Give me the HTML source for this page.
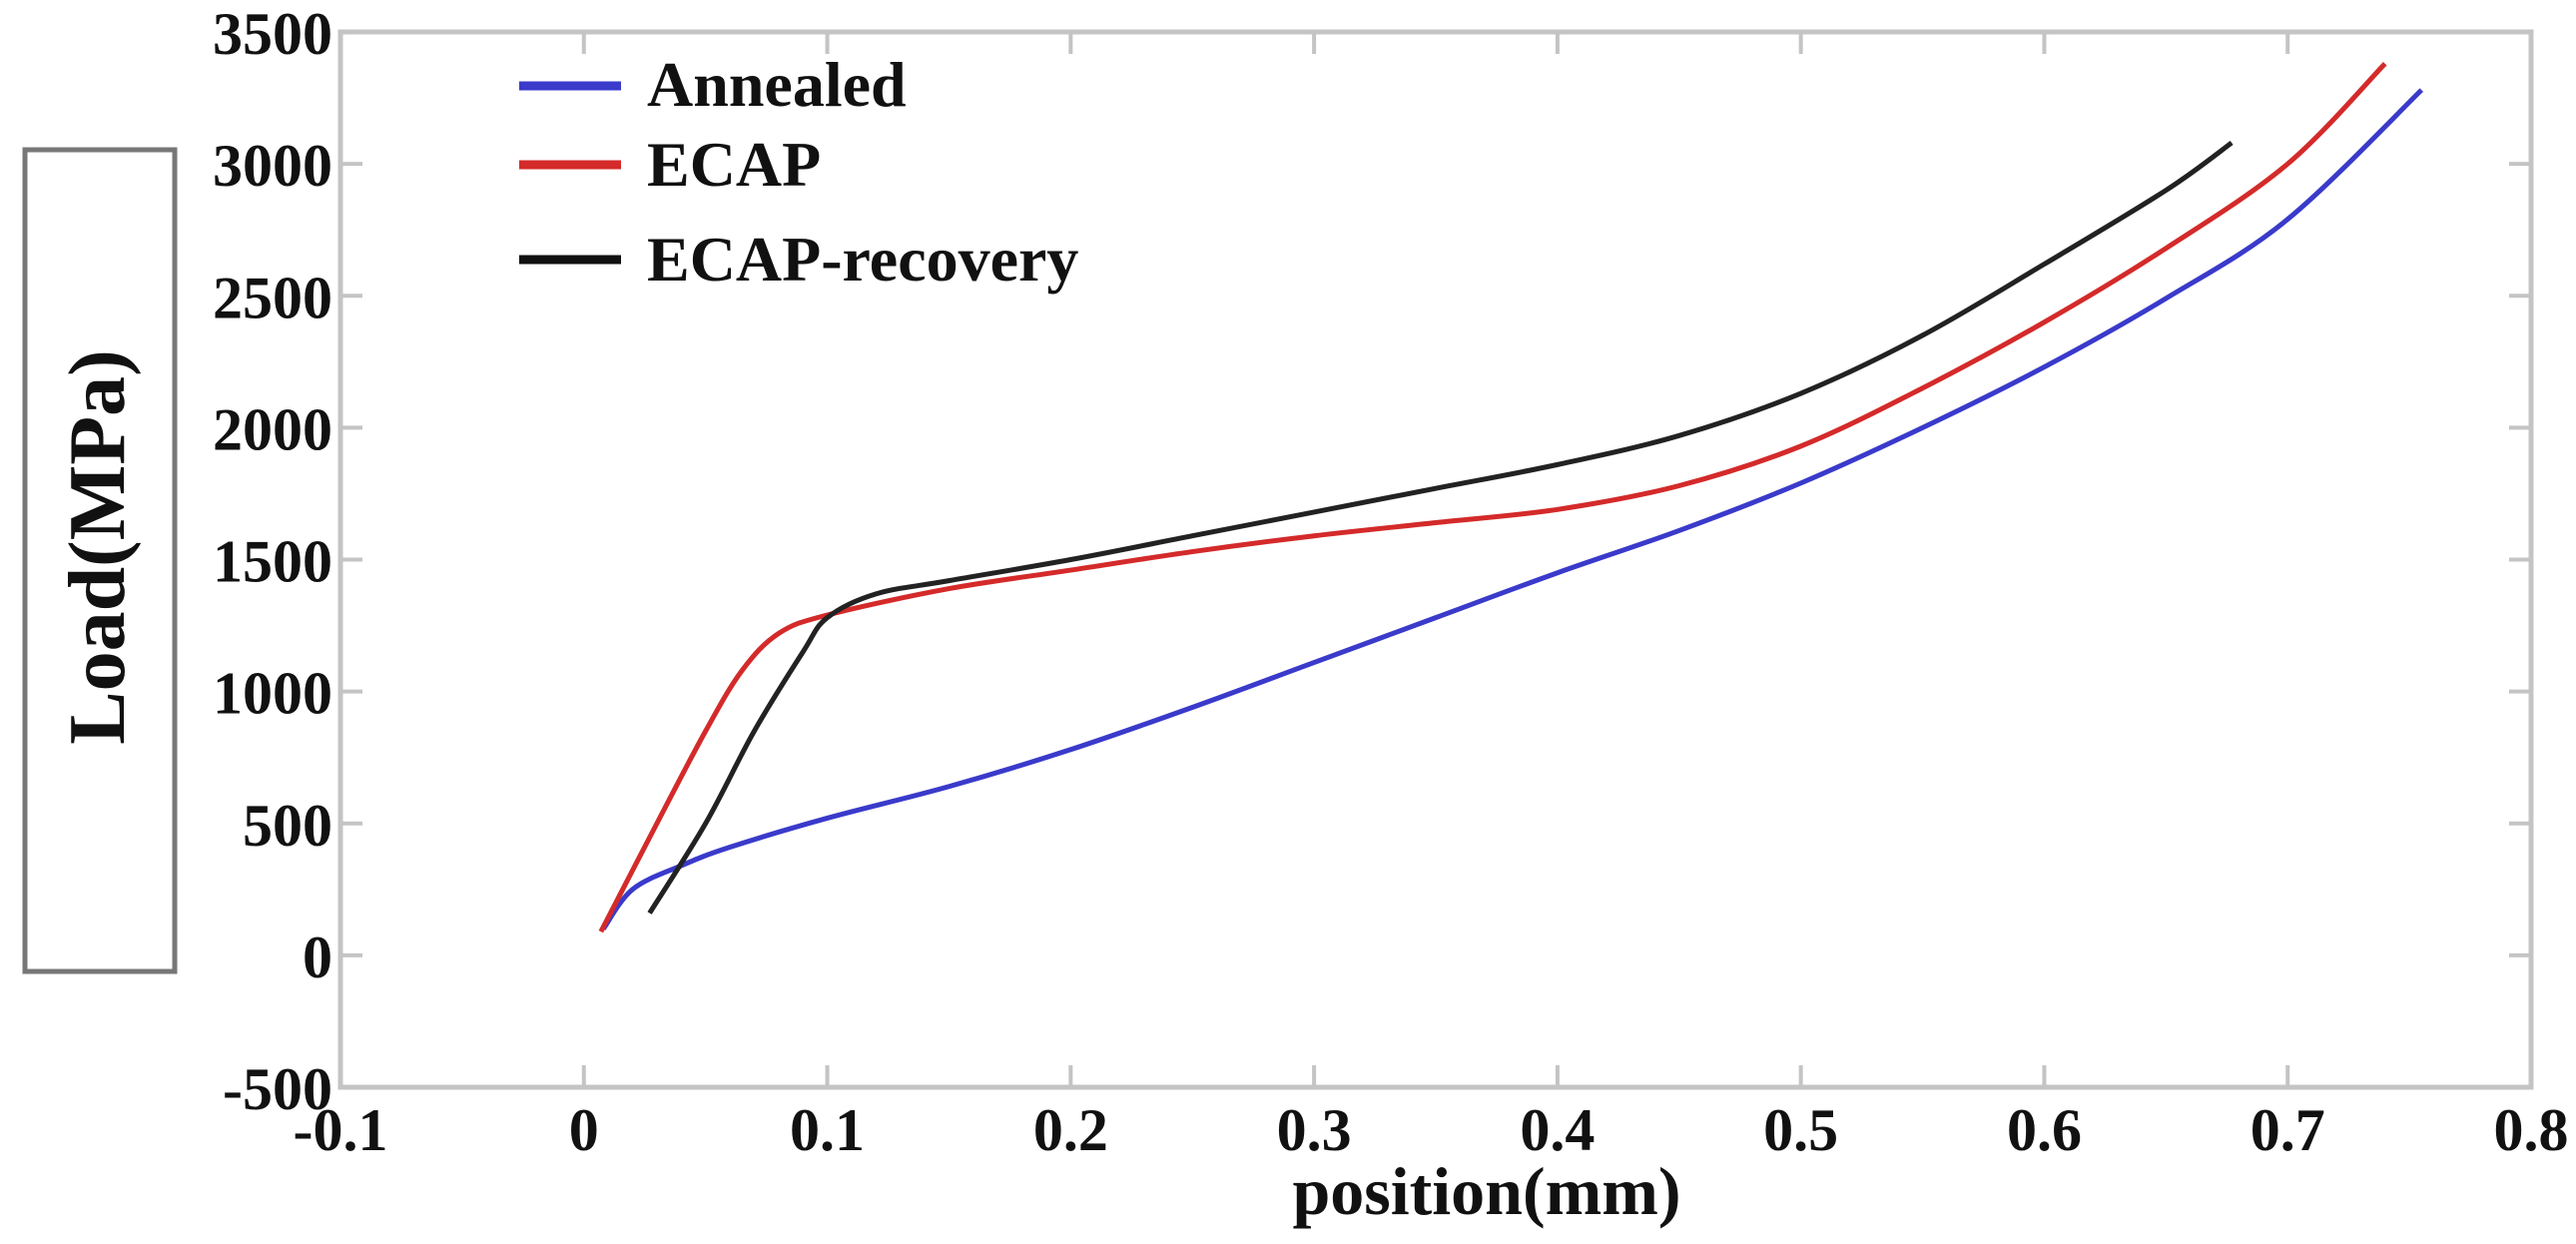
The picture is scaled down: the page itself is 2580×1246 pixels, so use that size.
<!DOCTYPE html>
<html><head><meta charset="utf-8"><style>
html,body{margin:0;padding:0;background:#fff;}
svg{display:block;}
text{font-family:"Liberation Serif",serif;font-weight:bold;fill:#111;}
</style></head><body>
<svg id="chart" width="2580" height="1246" viewBox="0 0 2580 1246">
<rect x="25" y="150" width="150" height="823" fill="none" stroke="#777" stroke-width="5"/>
<text x="0" y="0" transform="translate(124,548) rotate(-90)" text-anchor="middle" font-size="80">Load(MPa)</text>
<text x="1489" y="1216" text-anchor="middle" font-size="68">position(mm)</text>
<g id="axes"></g>
<g id="series"></g>
<g>
<line x1="520" y1="86" x2="622" y2="86" stroke="#3a3acb" stroke-width="9"/>
<text x="648" y="106" font-size="64">Annealed</text>
<line x1="520" y1="165" x2="622" y2="165" stroke="#d42a2a" stroke-width="9"/>
<text x="648" y="186" font-size="64">ECAP</text>
<line x1="520" y1="260" x2="622" y2="260" stroke="#111" stroke-width="9"/>
<text x="648" y="281" font-size="64">ECAP-recovery</text>
</g>
</svg>
<script>
const xTicks = [-0.1, 0, 0.1, 0.2, 0.3, 0.4, 0.5, 0.6, 0.7, 0.8];
const xTickLabels = ["-0.1","0","0.1","0.2","0.3","0.4","0.5","0.6","0.7","0.8"];
const yTicks = [-500, 0, 500, 1000, 1500, 2000, 2500, 3000, 3500];
const yTickLabels = ["-500","0","500","1000","1500","2000","2500","3000","3500"];
const annealedX = [0.008,0.02,0.04,0.06,0.1,0.15,0.2,0.25,0.3,0.35,0.4,0.45,0.5,0.55,0.6,0.65,0.7,0.755];
const annealedY = [100,250,340,410,520,640,780,940,1110,1280,1450,1610,1790,2000,2230,2490,2790,3280];
const ecapX = [0.007,0.03,0.05,0.065,0.08,0.1,0.15,0.2,0.25,0.3,0.35,0.4,0.45,0.5,0.55,0.6,0.65,0.7,0.74];
const ecapY = [90,500,850,1080,1220,1290,1390,1460,1530,1590,1640,1690,1780,1930,2150,2400,2680,3000,3380];
const recovX = [0.027,0.05,0.07,0.09,0.1,0.12,0.15,0.2,0.25,0.3,0.35,0.4,0.45,0.5,0.55,0.6,0.65,0.677];
const recovY = [160,500,850,1150,1280,1370,1420,1500,1590,1680,1770,1860,1970,2130,2350,2620,2900,3080];

const L=341, R=2535, T=32, B=1089;
const X0=-0.1, X1=0.8, Y0=-500, Y1=3500;
function sx(v){return L+(v-X0)/(X1-X0)*(R-L);}
function sy(v){return B-(v-Y0)/(Y1-Y0)*(B-T);}
const NS="http://www.w3.org/2000/svg";
const axes=document.getElementById('axes');
function mk(tag,attrs,parent){const e=document.createElementNS(NS,tag);for(const k in attrs)e.setAttribute(k,attrs[k]);parent.appendChild(e);return e;}

const frame=mk('rect',{x:L,y:T,width:R-L,height:B-T,fill:'none',stroke:'#c4c4c4','stroke-width':5},axes);



xTicks.forEach((v,i)=>{
  const x=sx(v);
  const t1=mk('line',{x1:x,y1:B,x2:x,y2:B-22,stroke:'#c4c4c4','stroke-width':4},axes);
  
  
  const t2=mk('line',{x1:x,y1:T,x2:x,y2:T+22,stroke:'#c4c4c4','stroke-width':4},axes);
  
  
  const lb=mk('text',{x:x,y:1152,'text-anchor':'middle','font-size':60},axes);
  lb.textContent=xTickLabels[i];
  
  
});
yTicks.forEach((v,i)=>{
  const y=sy(v);
  const t1=mk('line',{x1:L,y1:y,x2:L+22,y2:y,stroke:'#c4c4c4','stroke-width':4},axes);
  
  
  const t2=mk('line',{x1:R,y1:y,x2:R-22,y2:y,stroke:'#c4c4c4','stroke-width':4},axes);
  
  
  const lb=mk('text',{x:L-8,y:y+22,'text-anchor':'end','font-size':60},axes);
  lb.textContent=yTickLabels[i];
  
  
});

function smoothPath(xs,ys){
  const p=xs.map((v,i)=>[sx(v),sy(ys[i])]);
  let d='M'+p[0][0]+','+p[0][1];
  for(let i=0;i<p.length-1;i++){
    const p0=p[i-1]||p[i],p1=p[i],p2=p[i+1],p3=p[i+2]||p2;
    const c1=[p1[0]+(p2[0]-p0[0])/6,p1[1]+(p2[1]-p0[1])/6];
    const c2=[p2[0]-(p3[0]-p1[0])/6,p2[1]-(p3[1]-p1[1])/6];
    d+=' C'+c1[0]+','+c1[1]+' '+c2[0]+','+c2[1]+' '+p2[0]+','+p2[1];
  }
  return d;
}
const series=document.getElementById('series');
const a=mk('path',{d:smoothPath(annealedX,annealedY),fill:'none',stroke:'#3a3acb','stroke-width':5},series);


const e=mk('path',{d:smoothPath(ecapX,ecapY),fill:'none',stroke:'#d42a2a','stroke-width':5},series);


const r=mk('path',{d:smoothPath(recovX,recovY),fill:'none',stroke:'#222','stroke-width':5},series);


</script>
</body></html>
